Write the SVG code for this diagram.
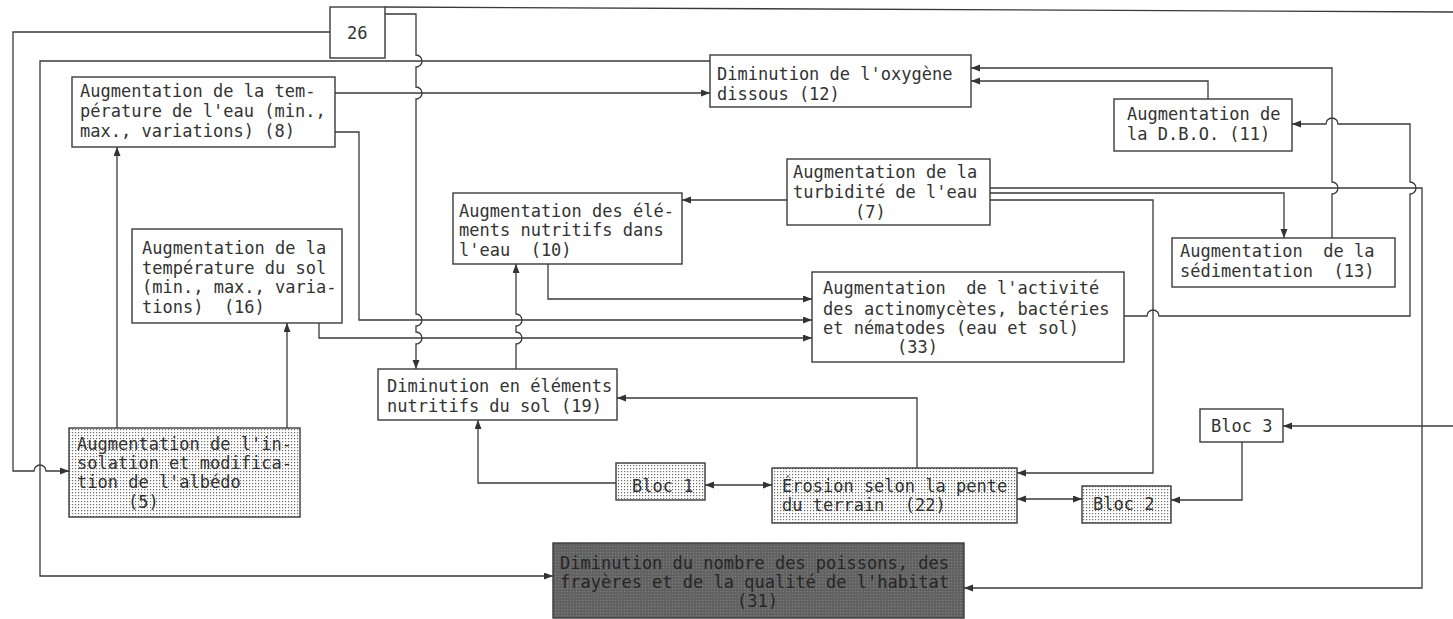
<svg xmlns="http://www.w3.org/2000/svg" width="1453" height="619" viewBox="0 0 1453 619">
<style>
text{font-family:"DejaVu Sans Mono","Liberation Mono",monospace;font-size:17px;fill:#333;white-space:pre}
.box{fill:#fff;stroke:#3a3a3a;stroke-width:1.4}
.dot{fill:url(#stip);stroke:#3a3a3a;stroke-width:1.4}
.dark{fill:url(#darkp);stroke:#3a3a3a;stroke-width:1.4}
.dk{fill:#262626}
#connectors path{fill:none;stroke:#3a3a3a;stroke-width:1.3}
.a{marker-end:url(#ah)}
.b{marker-start:url(#ah);marker-end:url(#ah)}
</style>
<defs>
<pattern id="stip" patternUnits="userSpaceOnUse" width="3" height="3">
<rect width="3" height="3" fill="#fff"/>
<rect width="1.2" height="1.2" fill="#6a6a6a"/>
</pattern>
<pattern id="darkp" patternUnits="userSpaceOnUse" width="3" height="3">
<rect width="3" height="3" fill="#616161"/>
<rect width="1.2" height="1.2" fill="#7e7e7e"/>
</pattern>
<marker id="ah" markerUnits="userSpaceOnUse" markerWidth="10" markerHeight="8" refX="9" refY="3.5" orient="auto-start-reverse">
<path d="M0,0 L9,3.5 L0,7 z" fill="#333"/>
</marker>
</defs>
<rect width="1453" height="619" fill="#fff"/>

<g id="connectors">
<path d="M385,7 L1453,12"/>
<path class="a" d="M330,32 H13 V471 H34 A6,6 0 0 1 46,471 H69"/>
<path class="a" d="M385,14 H416 V55 A6,6 0 0 1 416,67 V87 A6,6 0 0 1 416,99 V314 A6,6 0 0 1 416,326 V332 A6,6 0 0 1 416,344 V369"/>
<path class="a" d="M710,61 H40 V576 H553"/>
<path class="a" d="M335,93 H710"/>
<path class="a" d="M335,132 H359 V320 H812"/>
<path class="a" d="M117,428 V147"/>
<path class="a" d="M287,428 V323"/>
<path class="a" d="M319,323 V338 H812"/>
<path class="a" d="M516,369 V344 A6,6 0 0 0 516,332 V326 A6,6 0 0 0 516,314 V264"/>
<path class="a" d="M548,264 V299 H812"/>
<path class="a" d="M787,200 H682"/>
<path class="a" d="M990,188 H1422 V588 H964"/>
<path class="a" d="M990,193 H1284 V238"/>
<path class="a" d="M990,200 H1153 V473 H1017"/>
<path class="a" d="M1332,238 V194 A6,6 0 0 0 1332,182 V68 H971"/>
<path class="a" d="M1208,99 V81 H971"/>
<path class="a" d="M1124,316 H1147 A6,6 0 0 1 1159,316 H1410 V194 A6,6 0 0 0 1410,182 V124 H1338 A6,6 0 0 0 1326,124 H1292"/>
<path class="a" d="M917,468 V398 H617"/>
<path class="a" d="M616,483 H478 V420"/>
<path class="b" d="M705,485 H772"/>
<path class="b" d="M1017,499 H1082"/>
<path class="a" d="M1242,442 V500 H1171"/>
<path class="a" d="M1453,426 H1283"/>
</g>

<g id="n26">
<rect class="box" x="330" y="7" width="55" height="51"/>
<text x="347" y="39">26</text>
</g>
<g id="n8">
<rect class="box" x="72" y="77" width="263" height="70"/>
<text x="80" y="97">Augmentation de la tem-</text>
<text x="80" y="117">pérature de l'eau (min.,</text>
<text x="80" y="137">max., variations) (8)</text>
</g>
<g id="n12">
<rect class="box" x="710" y="55" width="261" height="52"/>
<text x="717" y="80">Diminution de l'oxygène</text>
<text x="717" y="100">dissous (12)</text>
</g>
<g id="n11">
<rect class="box" x="1114" y="99" width="178" height="52"/>
<text x="1127" y="120">Augmentation de</text>
<text x="1127" y="140">la D.B.O. (11)</text>
</g>
<g id="n7">
<rect class="box" x="787" y="159" width="203" height="66"/>
<text x="793" y="178">Augmentation de la</text>
<text x="793" y="198">turbidité de l'eau</text>
<text x="855" y="218">(7)</text>
</g>
<g id="n10">
<rect class="box" x="453" y="193" width="229" height="71"/>
<text x="459" y="217">Augmentation des élé-</text>
<text x="459" y="236">ments nutritifs dans</text>
<text x="459" y="256">l'eau  (10)</text>
</g>
<g id="n16">
<rect class="box" x="132" y="229" width="210" height="94"/>
<text x="142" y="254">Augmentation de la</text>
<text x="142" y="274">température du sol</text>
<text x="142" y="293">(min., max., varia-</text>
<text x="142" y="313">tions)  (16)</text>
</g>
<g id="n13">
<rect class="box" x="1172" y="238" width="223" height="49"/>
<text x="1180" y="257">Augmentation  de la</text>
<text x="1180" y="277">sédimentation  (13)</text>
</g>
<g id="n33">
<rect class="box" x="812" y="272" width="312" height="90"/>
<text x="823" y="294">Augmentation  de l'activité</text>
<text x="823" y="315">des actinomycètes, bactéries</text>
<text x="823" y="334">et nématodes (eau et sol)</text>
<text x="897" y="353">(33)</text>
</g>
<g id="n19">
<rect class="box" x="378" y="369" width="239" height="51"/>
<text x="387" y="392">Diminution en éléments</text>
<text x="387" y="412">nutritifs du sol (19)</text>
</g>
<g id="nbloc3">
<rect class="box" x="1200" y="409" width="83" height="33"/>
<text x="1211" y="432">Bloc 3</text>
</g>
<g id="n5">
<rect class="dot" x="69" y="428" width="231" height="89"/>
<text x="77" y="450">Augmentation de l'in-</text>
<text x="77" y="469">solation et modifica-</text>
<text x="77" y="488">tion de l'albédo</text>
<text x="128" y="508">(5)</text>
</g>
<g id="nbloc1">
<rect class="dot" x="616" y="463" width="89" height="37"/>
<text x="632" y="492">Bloc 1</text>
</g>
<g id="n22">
<rect class="dot" x="772" y="468" width="245" height="55"/>
<text x="782" y="492">Érosion selon la pente</text>
<text x="782" y="511">du terrain  (22)</text>
</g>
<g id="nbloc2">
<rect class="dot" x="1082" y="486" width="89" height="37"/>
<text x="1093" y="510">Bloc 2</text>
</g>
<g id="n31">
<rect class="dark" x="553" y="543" width="411" height="75"/>
<text class="dk" x="560" y="569">Diminution du nombre des poissons, des</text>
<text class="dk" x="560" y="588">frayères et de la qualité de l'habitat</text>
<text class="dk" x="737" y="607">(31)</text>
</g>
</svg>
